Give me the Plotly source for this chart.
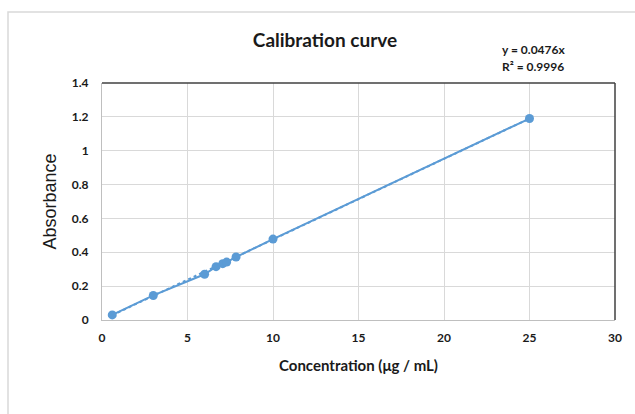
import plotly.graph_objects as go

conc = [0.6, 3.0, 6.0, 6.67, 7.06, 7.29, 7.84, 10.0, 25.0]
absorb = [0.03, 0.145, 0.27, 0.315, 0.333, 0.342, 0.372, 0.478, 1.19]
slope = 0.0476
x_ticks = [0, 5, 10, 15, 20, 25, 30]
y_ticks = [0, 0.2, 0.4, 0.6, 0.8, 1.0, 1.2, 1.4]
y_tick_text = ["0", "0.2", "0.4", "0.6", "0.8", "1", "1.2", "1.4"]

blue = "#5B9BD5"
font_b = "Lato"
txt = "#1a1a1a"

trend_x = [min(conc), max(conc)]
trend_y = [slope * v for v in trend_x]

fig = go.Figure()
fig.add_trace(go.Scatter(x=trend_x, y=trend_y, mode="lines",
                         line=dict(color=blue, width=2, dash="dot"),
                         showlegend=False, hoverinfo="skip"))
fig.add_trace(go.Scatter(x=conc, y=absorb, mode="lines+markers",
                         line=dict(color=blue, width=2),
                         marker=dict(color=blue, size=9),
                         showlegend=False))

L, R, T, B = 102, 20, 83, 94
W, H = 635, 414
pw, ph = W - L - R, H - T - B

def px(x):
    return (x - L) / pw

def py(y):
    return (H - B - y) / ph

fig.update_layout(
    width=W, height=H,
    margin=dict(l=L, r=R, t=T, b=B),
    paper_bgcolor="white", plot_bgcolor="white",
    title=dict(text="<b>Calibration curve</b>", x=px(325), xref="paper", xanchor="center",
               y=1 - 40 / H, yanchor="middle",
               font=dict(family=font_b, size=19, color=txt)),
    xaxis=dict(range=[0, 30], tickvals=x_ticks, showgrid=True, gridcolor="#D9D9D9",
               gridwidth=1, zeroline=False, showline=True, linecolor="#BFBFBF",
               ticks="", tickfont=dict(family=font_b, size=12, color=txt, weight="bold"),
               ticklabelstandoff=7,
               title=dict(text="<b>Concentration (μg / mL)</b>",
                          font=dict(family=font_b, size=15, color=txt),
                          standoff=16)),
    yaxis=dict(range=[0, 1.4], tickvals=y_ticks, ticktext=y_tick_text, showgrid=True,
               gridcolor="#D9D9D9", gridwidth=1, zeroline=False, showline=True,
               linecolor="#BFBFBF", ticks="",
               tickfont=dict(family=font_b, size=12, color=txt, weight="bold"),
               ticklabelstandoff=10,
               title=dict(text="Absorbance",
                          font=dict(family="Liberation Sans", size=18, color=txt),
                          standoff=10)),
    shapes=[
        dict(type="line", xref="paper", yref="paper", x0=0, x1=1, y0=1, y1=1,
             line=dict(color="#404040", width=1.5)),
        dict(type="line", xref="paper", yref="paper", x0=1, x1=1, y0=0, y1=1,
             line=dict(color="#404040", width=1.5)),
        dict(type="rect", xref="paper", yref="paper", x0=px(8), x1=px(645),
             y0=py(425), y1=py(12), line=dict(color="#D9D9D9", width=1.5),
             layer="below"),
    ],
    annotations=[
        dict(text="<b>y = 0.0476x</b>", xref="paper", yref="paper", x=px(533), y=py(50),
             showarrow=False, xanchor="center", yanchor="middle",
             font=dict(family=font_b, size=12, color=txt)),
        dict(text="<b>R² = 0.9996</b>", xref="paper", yref="paper", x=px(533), y=py(67),
             showarrow=False, xanchor="center", yanchor="middle",
             font=dict(family=font_b, size=12, color=txt)),
    ],
)

fig.write_html("out.html")
